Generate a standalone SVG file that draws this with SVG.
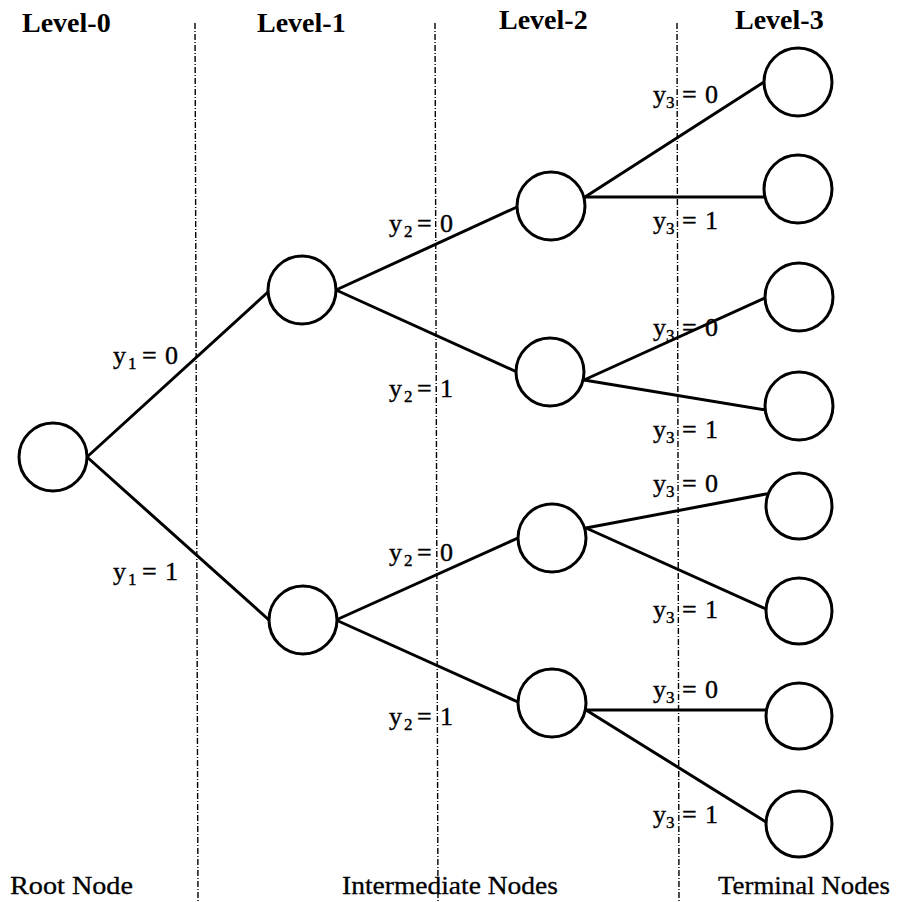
<svg xmlns="http://www.w3.org/2000/svg" width="901" height="902" viewBox="0 0 901 902">
<style>
.node{fill:#fff;stroke:#000;stroke-width:3}
.edge{stroke:#000;stroke-width:3;fill:none;stroke-linecap:round}
.div{stroke:#000;stroke-width:1.4;stroke-dasharray:6,2,1,2;fill:none}
text{font-family:'Liberation Serif','Times New Roman',Times,serif;fill:#000}
.lvl{font-weight:bold;font-size:28px}
.lab{font-size:26px;stroke:#000;stroke-width:0.4}
.sub{font-size:17px}
.bot{font-size:26px;stroke:#000;stroke-width:0.3}
</style>
<rect width="901" height="902" fill="#fff"/>
<g id="dividers">
<line class="div" x1="195" y1="23" x2="198" y2="902"/>
<line class="div" x1="435" y1="23" x2="438" y2="902"/>
<line class="div" x1="677" y1="23" x2="679" y2="902"/>
</g>
<g id="connectors">
<line class="edge" x1="87" y1="457" x2="268" y2="292"/>
<line class="edge" x1="87" y1="457" x2="269" y2="620"/>
<line class="edge" x1="336" y1="290" x2="517" y2="207"/>
<line class="edge" x1="336" y1="290" x2="517" y2="372"/>
<line class="edge" x1="336" y1="620" x2="518" y2="538"/>
<line class="edge" x1="336" y1="620" x2="518" y2="702"/>
<line class="edge" x1="585" y1="197" x2="764" y2="82"/>
<line class="edge" x1="585" y1="197" x2="765" y2="197"/>
<line class="edge" x1="584" y1="380" x2="765" y2="298"/>
<line class="edge" x1="584" y1="380" x2="766" y2="410"/>
<line class="edge" x1="586" y1="528" x2="766" y2="494"/>
<line class="edge" x1="586" y1="528" x2="766" y2="609"/>
<line class="edge" x1="586" y1="710" x2="766" y2="710"/>
<line class="edge" x1="586" y1="710" x2="766" y2="822"/>
</g>
<g id="root"><circle class="node" cx="53" cy="457" r="34"/></g>
<g id="n1a"><circle class="node" cx="302" cy="290" r="34"/></g>
<g id="n1b"><circle class="node" cx="303" cy="620" r="34"/></g>
<g id="n2a"><circle class="node" cx="551" cy="206" r="34"/></g>
<g id="n2b"><circle class="node" cx="550" cy="372" r="34"/></g>
<g id="n2c"><circle class="node" cx="552" cy="538" r="34"/></g>
<g id="n2d"><circle class="node" cx="552" cy="703" r="34"/></g>
<g id="t1"><circle class="node" cx="798" cy="82" r="34"/></g>
<g id="t2"><circle class="node" cx="798" cy="189" r="34"/></g>
<g id="t3"><circle class="node" cx="799" cy="297" r="34"/></g>
<g id="t4"><circle class="node" cx="799" cy="406" r="34"/></g>
<g id="t5"><circle class="node" cx="799" cy="506" r="33"/></g>
<g id="t6"><circle class="node" cx="799" cy="611" r="33"/></g>
<g id="t7"><circle class="node" cx="799" cy="716" r="33"/></g>
<g id="t8"><circle class="node" cx="799" cy="824" r="33"/></g>
<g id="levels">
<text class="lvl" x="22" y="32">Level-0</text>
<text class="lvl" x="257" y="32">Level-1</text>
<text class="lvl" x="499" y="29">Level-2</text>
<text class="lvl" x="735" y="29">Level-3</text>
</g>
<g id="labels">
<text class="lab" y="364"><tspan x="113">y</tspan><tspan class="sub" x="128" dy="5">1</tspan><tspan x="142" dy="-5">=</tspan><tspan x="165">0</tspan></text>
<text class="lab" y="580"><tspan x="113">y</tspan><tspan class="sub" x="128" dy="5">1</tspan><tspan x="142" dy="-5">=</tspan><tspan x="165">1</tspan></text>
<text class="lab" y="232"><tspan x="389">y</tspan><tspan class="sub" x="404" dy="5">2</tspan><tspan x="417" dy="-5">=</tspan><tspan x="440">0</tspan></text>
<text class="lab" y="397"><tspan x="389">y</tspan><tspan class="sub" x="404" dy="5">2</tspan><tspan x="417" dy="-5">=</tspan><tspan x="440">1</tspan></text>
<text class="lab" y="561"><tspan x="389">y</tspan><tspan class="sub" x="404" dy="5">2</tspan><tspan x="417" dy="-5">=</tspan><tspan x="440">0</tspan></text>
<text class="lab" y="725"><tspan x="389">y</tspan><tspan class="sub" x="404" dy="5">2</tspan><tspan x="417" dy="-5">=</tspan><tspan x="440">1</tspan></text>
<text class="lab" y="103"><tspan x="653">y</tspan><tspan class="sub" x="666" dy="5">3</tspan><tspan x="682" dy="-5">=</tspan><tspan x="705">0</tspan></text>
<text class="lab" y="229"><tspan x="653">y</tspan><tspan class="sub" x="666" dy="5">3</tspan><tspan x="682" dy="-5">=</tspan><tspan x="705">1</tspan></text>
<text class="lab" y="336"><tspan x="653">y</tspan><tspan class="sub" x="666" dy="5">3</tspan><tspan x="682" dy="-5">=</tspan><tspan x="705">0</tspan></text>
<text class="lab" y="438"><tspan x="653">y</tspan><tspan class="sub" x="666" dy="5">3</tspan><tspan x="682" dy="-5">=</tspan><tspan x="705">1</tspan></text>
<text class="lab" y="492"><tspan x="653">y</tspan><tspan class="sub" x="666" dy="5">3</tspan><tspan x="682" dy="-5">=</tspan><tspan x="705">0</tspan></text>
<text class="lab" y="618"><tspan x="653">y</tspan><tspan class="sub" x="666" dy="5">3</tspan><tspan x="682" dy="-5">=</tspan><tspan x="705">1</tspan></text>
<text class="lab" y="698"><tspan x="653">y</tspan><tspan class="sub" x="666" dy="5">3</tspan><tspan x="682" dy="-5">=</tspan><tspan x="705">0</tspan></text>
<text class="lab" y="823"><tspan x="653">y</tspan><tspan class="sub" x="666" dy="5">3</tspan><tspan x="682" dy="-5">=</tspan><tspan x="705">1</tspan></text>
</g>
<g id="captions">
<text class="bot" x="10" y="894" textLength="123" lengthAdjust="spacingAndGlyphs">Root Node</text>
<text class="bot" x="342" y="894" textLength="216" lengthAdjust="spacingAndGlyphs">Intermediate Nodes</text>
<text class="bot" x="718" y="894" textLength="172" lengthAdjust="spacingAndGlyphs">Terminal Nodes</text>
</g>
</svg>
